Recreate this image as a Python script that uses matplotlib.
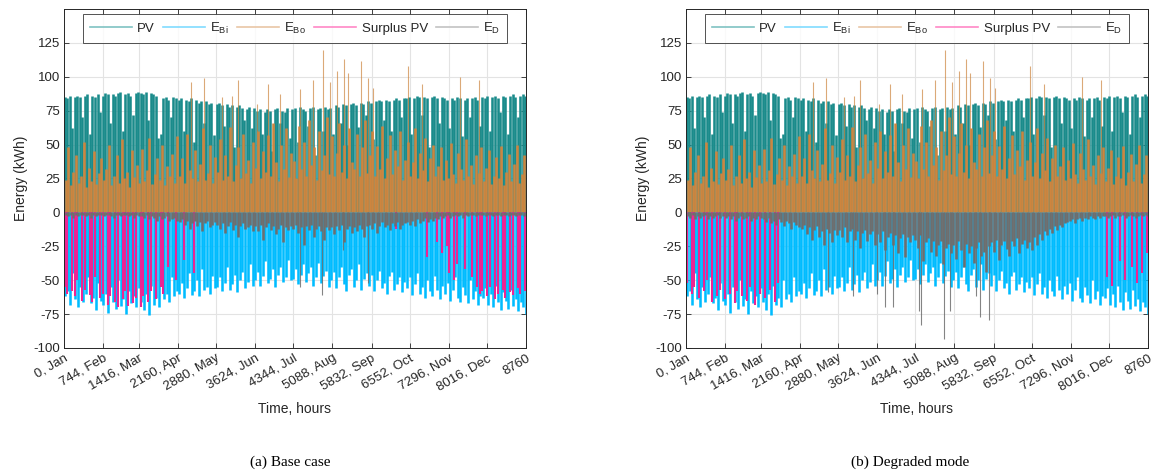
import numpy as np
import matplotlib.pyplot as plt
from matplotlib.lines import Line2D

plt.rcParams['font.family'] = ['Liberation Sans', 'DejaVu Sans']
plt.rcParams['axes.unicode_minus'] = False

# ===================== ##
# Data (one value per 2 days)
# ===================== ##
step_hours = 48
xtick_hours = [0, 744, 1416, 2160, 2880, 3624, 4344, 5088, 5832, 6552, 7296, 8016, 8760]
xtick_labels = ["0, Jan", "744, Feb", "1416, Mar", "2160, Apr", "2880, May", "3624, Jun",
                "4344, Jul", "5088, Aug", "5832, Sep", "6552, Oct", "7296, Nov", "8016, Dec", "8760"]

pv = [85, 84, 86, 62, 85, 86, 85, 70, 86, 87, 58, 86, 85, 87, 74,
      86, 88, 87, 66, 87, 86, 88, 89, 60, 87, 88, 86, 72, 88, 89,
      88, 87, 89, 68, 88, 87, 86, 55, 58, 84, 85, 83, 70, 85, 84,
      83, 84, 60, 83, 82, 84, 52, 83, 81, 82, 66, 82, 80, 81, 57,
      80, 81, 79, 64, 80, 78, 79, 48, 78, 79, 77, 68, 76, 78, 62,
      77, 75, 76, 58, 74, 76, 75, 45, 76, 77, 66, 75, 74, 77, 55,
      76, 77, 52, 78, 76, 75, 64, 77, 78, 42, 76, 77, 60, 78, 76,
      77, 58, 79, 78, 66, 80, 79, 50, 80, 81, 79, 63, 81, 80, 72,
      82, 81, 54, 82, 83, 82, 68, 83, 82, 60, 83, 84, 83, 70, 84,
      84, 85, 58, 84, 86, 85, 72, 85, 84, 48, 85, 86, 84, 66, 85,
      84, 83, 62, 84, 83, 85, 84, 56, 83, 84, 70, 84, 85, 83, 64,
      85, 84, 86, 60, 85, 86, 84, 74, 86, 85, 58, 86, 87, 85, 70,
      86, 87, 86]

e_bo = [24, 48, 20, 30, 42, 22, 27, 52, 19, 33, 23, 45, 21, 29, 40,
        24, 32, 50, 20, 27, 42, 22, 54, 25, 30, 19, 46, 26, 35, 22,
        47, 23, 31, 55, 21, 28, 40, 24, 50, 20, 34, 27, 43, 22, 56,
        27, 40, 22, 58, 31, 25, 46, 23, 36, 62, 24, 29, 50, 22, 41,
        30, 54, 24, 42, 27, 63, 23, 35, 48, 25, 58, 29, 39, 22, 52,
        33, 60, 25, 45, 30, 57, 27, 66, 37, 23, 50, 32, 62, 26, 44,
        38, 25, 64, 32, 52, 27, 68, 35, 48, 24, 60, 31, 42, 70, 28,
        56, 27, 44, 66, 30, 50, 25, 62, 37, 32, 58, 27, 48, 68, 29,
        42, 60, 27, 49, 32, 64, 25, 40, 57, 28, 46, 34, 60, 24, 39,
        52, 27, 37, 62, 25, 44, 31, 55, 23, 40, 50, 27, 34, 48, 24,
        39, 25, 51, 28, 22, 44, 32, 24, 54, 27, 35, 21, 42, 29, 48,
        23, 33, 46, 21, 27, 41, 25, 49, 20, 30, 43, 23, 36, 50, 22,
        28, 42, 25]

# occasional tall boiler spikes
bo_spike_hours = [2400, 2660, 2990, 3190, 3300, 3650, 3870, 4100, 4475, 4720, 4905,
                  5045, 5180, 5310, 5385, 5630, 5765, 5860, 6525, 6780, 7510, 7870]
bo_spike_vals = [96, 99, 85, 86, 98, 80, 95, 87, 91, 98, 120,
                 96, 104, 113, 103, 112, 99, 92, 108, 95, 100, 98]

e_bi = [-62, -58, -68, -45, -64, -70, -55, -66, -60, -48, -67, -63, -72, -52, -65,
        -68, -60, -74, -55, -66, -71, -50, -69, -64, -75, -58, -67, -62, -70, -56,
        -66, -72, -60, -76, -54, -68, -63, -70, -50, -64, -60, -66, -48, -62, -58,
        -60, -52, -63, -56, -45, -61, -58, -50, -62, -42, -57, -55, -60, -47, -56,
        -55, -48, -58, -52, -40, -57, -53, -46, -59, -50, -44, -56, -51, -38, -54,
        -50, -44, -54, -47, -36, -52, -49, -42, -55, -46, -40, -51, -48, -35, -50,
        -49, -42, -53, -46, -38, -51, -45, -40, -54, -48, -37, -52, -47, -43, -55,
        -50, -44, -56, -48, -40, -53, -58, -46, -42, -55, -50, -38, -57, -49, -45,
        -54, -46, -58, -50, -43, -56, -52, -60, -47, -44, -57, -53, -48, -59, -51,
        -56, -48, -61, -53, -45, -60, -55, -63, -50, -58, -62, -47, -57, -64, -54,
        -60, -52, -65, -57, -48, -63, -66, -55, -61, -67, -50, -64, -58, -68, -62,
        -63, -56, -68, -60, -70, -54, -66, -72, -59, -65, -71, -57, -69, -64, -73,
        -66, -70, -75]

surplus_base = [-55, -60, 0, -58, -62, -50, 0, -65, -57, 0, -61, -66, -48, 0, -63,
                -60, 0, -68, -62, 0, -66, -70, 0, -64, -58, -69, 0, -67, -63, 0,
                -70, -62, 0, -66, -58, 0, -64, 0, -55, -60, 0, -40, 0, 0, -50,
                0, 0, -35, 0, 0, 0, -45, 0, 0, 0, 0, 0, 0, 0, 0,
                0, 0, 0, 0, 0, 0, 0, 0, 0, 0, 0, 0, 0, 0, 0,
                0, 0, 0, 0, 0, 0, 0, 0, 0, 0, 0, 0, 0, 0, 0,
                0, 0, 0, 0, 0, 0, 0, 0, 0, 0, 0, 0, 0, 0, 0,
                0, 0, 0, 0, 0, 0, 0, 0, 0, 0, 0, 0, 0, 0, 0,
                0, 0, 0, 0, 0, 0, 0, 0, 0, 0, 0, -12, 0, 0, 0,
                0, 0, 0, 0, 0, 0, 0, 0, -33, 0, 0, 0, -22, 0, -30,
                0, -25, -45, 0, -50, -38, 0, 0, -42, 0, 0, -48, 0, -55, -60,
                -58, 0, -62, -55, 0, -64, -60, 0, -57, -63, 0, -59, -61, 0, -56,
                -60, 0, -58]

surplus_degraded = [-52, 0, -60, -55, 0, -63, 0, -58, -50, 0, -66, 0, -62, -57, 0,
                    -64, 0, -60, 0, -67, -58, 0, -62, 0, -65, -55, 0, -68, 0, -60,
                    0, -63, 0, -57, 0, -66, -52, 0, 0, 0, 0, 0, 0, 0, 0,
                    0, 0, 0, 0, 0, 0, 0, 0, 0, 0, 0, 0, 0, 0, 0,
                    0, 0, 0, 0, 0, 0, 0, 0, 0, 0, 0, 0, 0, 0, 0,
                    0, 0, 0, 0, 0, 0, 0, 0, 0, 0, 0, 0, 0, 0, 0,
                    0, 0, 0, 0, 0, 0, 0, 0, 0, 0, 0, 0, 0, 0, 0,
                    0, 0, 0, 0, 0, 0, 0, 0, 0, 0, 0, 0, 0, 0, 0,
                    0, 0, 0, 0, 0, 0, 0, 0, 0, 0, 0, 0, 0, 0, 0,
                    0, 0, 0, 0, 0, 0, 0, 0, 0, 0, 0, 0, 0, 0, 0,
                    0, 0, 0, 0, 0, 0, 0, 0, 0, 0, 0, 0, 0, 0, 0,
                    0, -48, 0, -54, 0, 0, -36, 0, -50, 0, 0, -40, 0, -52, 0,
                    -45, 0, -30]

e_d_base = [-2, -3, -2, -4, -2, -3, -2, -2, -3, -2, -4, -2, -3, -2, -2,
            -3, -2, -2, -3, -4, -2, -2, -3, -2, -2, -3, -2, -4, -2, -3,
            -3, -4, -2, -5, -3, -4, -6, -3, -5, -4, -3, -6, -5, -4, -6,
            -7, -5, -9, -6, -12, -8, -6, -10, -7, -14, -8, -6, -11, -9, -7,
            -9, -12, -8, -15, -10, -7, -13, -9, -18, -10, -8, -12, -11, -9, -14,
            -10, -14, -9, -20, -11, -8, -13, -10, -16, -12, -9, -22, -11, -13, -10,
            -12, -9, -15, -11, -24, -10, -13, -9, -18, -12, -10, -14, -20, -11, -13,
            -11, -16, -10, -13, -9, -22, -12, -10, -15, -11, -14, -9, -12, -18, -10,
            -9, -12, -8, -15, -10, -7, -11, -9, -13, -8, -10, -7, -12, -9, -8,
            -7, -9, -6, -10, -5, -8, -6, -4, -7, -5, -6, -4, -5, -3, -4,
            -3, -2, -4, -3, -2, -3, -2, -4, -2, -3, -2, -2, -3, -2, -2,
            -2, -3, -2, -2, -3, -2, -2, -3, -2, -2, -3, -2, -2, -3, -2,
            -2, -3, -2]
ed_base_spike_hours = [4475, 4885, 5290, 5760]
ed_base_spike_vals = [-55, -61, -28, -52]

e_d_degraded = [-3, -4, -2, -5, -3, -4, -3, -2, -5, -3, -4, -3, -2, -4, -3,
                -4, -3, -5, -3, -6, -4, -3, -5, -4, -3, -6, -4, -5, -3, -4,
                -5, -7, -4, -8, -6, -9, -5, -7, -10, -6, -8, -12, -7, -9, -11,
                -12, -9, -16, -11, -20, -13, -10, -18, -14, -24, -12, -15, -22, -13, -17,
                -13, -18, -11, -22, -14, -12, -20, -14, -26, -15, -13, -21, -16, -14, -24,
                -16, -22, -14, -28, -18, -15, -24, -17, -30, -19, -16, -33, -18, -22, -17,
                -20, -26, -17, -36, -22, -19, -29, -21, -32, -24, -21, -38, -26, -23, -30,
                -24, -34, -21, -28, -40, -23, -30, -25, -37, -26, -22, -32, -29, -44, -25,
                -22, -29, -20, -35, -24, -21, -27, -32, -21, -25, -19, -30, -23, -20, -26,
                -22, -28, -18, -24, -16, -20, -14, -17, -12, -15, -10, -13, -9, -11, -8,
                -7, -6, -5, -8, -5, -4, -6, -4, -5, -3, -4, -5, -3, -4, -3,
                -3, -4, -3, -2, -4, -3, -3, -2, -4, -3, -2, -3, -4, -3, -2,
                -3, -2, -3]
ed_deg_spike_hours = [2700, 3170, 3618, 3775, 3934, 4420, 4453, 4883, 4997, 5500, 5570, 5750]
ed_deg_spike_vals = [-59, -62, -60, -70, -70, -73, -83, -93, -73, -62, -77, -79]

# ===================== ##
# Styles                ##
# ===================== ##
c_pv, c_bi, c_bo, c_sur, c_ed = '#1a8b8b', '#00bcff', '#cd853f', '#ec2594', '#6e6e6e'
leg_colors = ['#7fc2c2', '#80dbff', '#e9c6a6', '#ff88c6', '#c2c2c2']
leg_labels = ['PV', r'E$_\mathregular{Bi}$', r'E$_\mathregular{Bo}$', 'Surplus PV', r'E$_\mathregular{D}$']
txt_color = '#262626'

hours = np.arange(len(pv)) * step_hours


def draw_panel(ax, surplus, e_d, sp_h, sp_v):
    lw = 1.85
    ax.vlines(hours + 12, 0, pv, colors=c_pv, linewidth=lw)
    ax.vlines(hours + 24, 0, e_bi, colors=c_bi, linewidth=lw)
    ax.vlines(hours + 36, 0, e_bo, colors=c_bo, linewidth=lw)
    ax.vlines(bo_spike_hours, 0, bo_spike_vals, colors=c_bo, linewidth=0.8, alpha=0.7)
    ax.vlines(hours + 12, 0, surplus, colors=c_sur, linewidth=1.5)
    ax.vlines(hours + 30, 0, e_d, colors=c_ed, linewidth=lw)
    ax.vlines(sp_h, 0, sp_v, colors=c_ed, linewidth=0.8, alpha=0.85)

    ax.set_xlim(0, 8760)
    ax.set_ylim(-100, 150)
    ax.set_yticks(range(-100, 126, 25))
    ax.set_xticks(xtick_hours)
    ax.set_xticklabels(xtick_labels, rotation=30, ha='right', va='top', rotation_mode='anchor')
    ax.grid(True, color='#e3e3e3', linewidth=0.8)
    ax.set_axisbelow(True)
    ax.tick_params(direction='in', top=True, right=True, length=3.5, width=0.6,
                   colors=txt_color, labelsize=9.5, pad=3)
    for s in ax.spines.values():
        s.set_color(txt_color)
        s.set_linewidth(0.7)
    ax.set_xlabel('Time, hours', fontsize=10, color=txt_color, labelpad=6)
    ax.set_ylabel('Energy (kWh)', fontsize=10, color=txt_color, labelpad=4)

    handles = [Line2D([0], [0], color=c, linewidth=1.2) for c in leg_colors]
    leg = ax.legend(handles, leg_labels, loc='upper center', bbox_to_anchor=(0.5, 1.0),
                    ncol=5, fontsize=9.5, handlelength=3.2, columnspacing=0.6,
                    handletextpad=0.4, frameon=True, fancybox=False, borderaxespad=0.4,
                    borderpad=0.5)
    leg.get_frame().set_edgecolor(txt_color)
    leg.get_frame().set_linewidth(0.7)
    for t in leg.get_texts():
        t.set_color(txt_color)


fig = plt.figure(figsize=(11.6, 4.75), dpi=100)
ax1 = fig.add_axes([64 / 1160, 1 - 348 / 475, 462 / 1160, 339 / 475])
ax2 = fig.add_axes([686 / 1160, 1 - 348 / 475, 462 / 1160, 339 / 475])

draw_panel(ax1, surplus_base, e_d_base, ed_base_spike_hours, ed_base_spike_vals)
draw_panel(ax2, surplus_degraded, e_d_degraded, ed_deg_spike_hours, ed_deg_spike_vals)

fig.text(290 / 1160, 1 - 462 / 475, '(a) Base case', family='Liberation Serif',
         fontsize=11, ha='center', va='center')
fig.text(910 / 1160, 1 - 462 / 475, '(b) Degraded mode', family='Liberation Serif',
         fontsize=11, ha='center', va='center')

fig.savefig('out.png', dpi=100)
